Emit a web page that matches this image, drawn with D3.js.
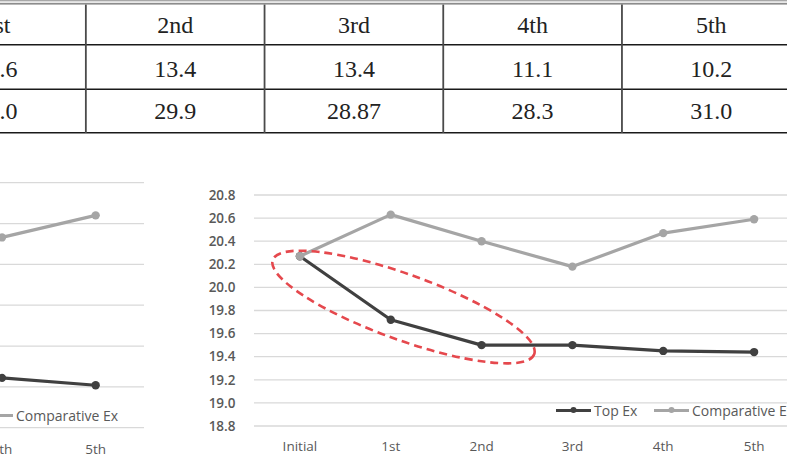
<!DOCTYPE html>
<html>
<head>
<meta charset="utf-8">
<script src="https://cdn.jsdelivr.net/npm/d3@7"></script>
<style>
  html, body { margin: 0; padding: 0; background: #fff; }
  svg { display: block; }
</style>
</head>
<body>
<svg id="chart" width="787" height="459"></svg>
<script>
// table (only the visible part of the original table)
var tableCols = ["1st", "2nd", "3rd", "4th", "5th"];
var tableTopEx = ["14.6", "13.4", "13.4", "11.1", "10.2"];
var tableCompEx = ["30.0", "29.9", "28.87", "28.3", "31.0"];

// left chart, same numbers as the table
var leftCats = ["Initial", "1st", "2nd", "3rd", "4th", "5th"];
var leftTopEx = [16.0, 14.6, 13.4, 13.4, 11.1, 10.2];
var leftCompEx = [29.5, 30.0, 29.9, 28.87, 28.3, 31.0];
var leftTicks = [5, 10, 15, 20, 25, 30, 35];

// right chart
var cats = ["Initial", "1st", "2nd", "3rd", "4th", "5th"];
var topEx = [20.27, 19.72, 19.50, 19.50, 19.45, 19.44];
var compEx = [20.27, 20.63, 20.40, 20.18, 20.47, 20.59];
var yTicks = [18.8, 19.0, 19.2, 19.4, 19.6, 19.8, 20.0, 20.2, 20.4, 20.6, 20.8];

var darkCol = "#404040", lightCol = "#a5a5a5", gridCol = "#d9d9d9", txtCol = "#595959";
var sans = "'Open Sans', sans-serif";

var svg = d3.select("#chart");

// ---------- table ----------
var colStep = 178.7, firstCenter = -3.5;
var tx = d => firstCenter + d * colStep;
var tg = svg.append("g");

// double top border
tg.append("rect").attr("x", 0).attr("y", 0).attr("width", 787).attr("height", 1.4).attr("fill", "#a8a8a8");
tg.append("rect").attr("x", 0).attr("y", 2.8).attr("width", 787).attr("height", 1.8).attr("fill", "#8c8c8c");

[44.8, 89.2, 132.8].forEach(function (y) {
  tg.append("line").attr("x1", 0).attr("x2", 787).attr("y1", y).attr("y2", y)
    .attr("stroke", "#1a1a1a").attr("stroke-width", 1.5);
});
tableCols.forEach(function (c, i) {
  var xb = tx(i) + colStep / 2;
  tg.append("line").attr("x1", xb).attr("x2", xb).attr("y1", 4.6).attr("y2", 133)
    .attr("stroke", "#4a4a4a").attr("stroke-width", 1.8);
});

var rows = [
  { vals: tableCols, base: 33 },
  { vals: tableTopEx, base: 76.5 },
  { vals: tableCompEx, base: 118.5 }
];
rows.forEach(function (r) {
  tg.selectAll(null).data(r.vals).enter().append("text")
    .attr("x", (d, i) => tx(i))
    .attr("y", r.base)
    .attr("text-anchor", "middle")
    .attr("font-family", "'Liberation Serif', 'Times New Roman', serif")
    .attr("font-size", "24px")
    .attr("fill", "#222")
    .text(d => d);
});

// ---------- helper to draw a line chart ----------
function drawChart(g, x, y, ticks, xMin, xMax, sets, labelBase) {
  g.selectAll(".grid").data(ticks).enter().append("line")
    .attr("x1", xMin).attr("x2", xMax)
    .attr("y1", d => y(d)).attr("y2", d => y(d))
    .attr("stroke", gridCol).attr("stroke-width", 1.3);

  g.selectAll(".xl").data(x.domain()).enter().append("text")
    .attr("x", d => x(d)).attr("y", labelBase)
    .attr("text-anchor", "middle")
    .attr("font-family", sans).attr("font-size", "13.5px")
    .attr("fill", txtCol)
    .text(d => d);

  sets.forEach(function (s) {
    var pts = x.domain().map((c, i) => [x(c), y(s.vals[i])]);
    g.append("path").attr("d", d3.line()(pts))
      .attr("fill", "none").attr("stroke", s.color).attr("stroke-width", 3.2)
      .attr("stroke-linejoin", "round");
    g.selectAll(null).data(pts).enter().append("circle")
      .attr("cx", d => d[0]).attr("cy", d => d[1]).attr("r", 4.2)
      .attr("fill", s.color);
  });
}

function legendItem(g, x0, yy, color, label) {
  g.append("line").attr("x1", x0).attr("x2", x0 + 35).attr("y1", yy).attr("y2", yy)
    .attr("stroke", color).attr("stroke-width", 3.2);
  g.append("circle").attr("cx", x0 + 17.5).attr("cy", yy - 0.5).attr("r", 3).attr("fill", color);
  g.append("text").attr("x", x0 + 38).attr("y", yy + 5)
    .attr("font-family", sans).attr("font-size", "14px").attr("fill", txtCol)
    .text(label);
}

// ---------- left chart ----------
var lg = svg.append("g");
var lx = d3.scalePoint().domain(leftCats).range([-419.7, 142.5]).padding(0.5);
var ly = d3.scaleLinear().domain([5, 35]).range([427.7, 182.7]);
drawChart(lg, lx, ly, leftTicks, -470, 144, [
  { vals: leftTopEx, color: darkCol },
  { vals: leftCompEx, color: lightCol }
], 454);
legendItem(lg, -140, 415.5, darkCol, "Top Ex");
legendItem(lg, -22, 415.5, lightCol, "Comparative Ex");

// ---------- right chart ----------
var rg = svg.append("g");
var x = d3.scalePoint().domain(cats).range([254.5, 799.5]).padding(0.5);
var y = d3.scaleLinear().domain([18.8, 20.8]).range([426, 195]);

rg.selectAll(".yl").data(yTicks).enter().append("text")
  .attr("x", 235.5).attr("y", d => y(d) + 4.7)
  .attr("text-anchor", "end")
  .attr("font-family", sans).attr("font-size", "13.5px").attr("font-weight", 600)
  .attr("fill", txtCol)
  .text(d => d.toFixed(1));

drawChart(rg, x, y, yTicks, 254, 800, [
  { vals: topEx, color: darkCol },
  { vals: compEx, color: lightCol }
], 451);
legendItem(rg, 556, 410.5, darkCol, "Top Ex");
legendItem(rg, 654, 410.5, lightCol, "Comparative Ex");

// red dashed ellipse around the early drop of Top Ex
var step = x.step();
var ecx = x("1st") + 0.14 * step, ecy = y(19.83);
rg.append("ellipse")
  .attr("cx", 0).attr("cy", 0).attr("rx", 139).attr("ry", 32.7)
  .attr("transform", "translate(" + ecx + "," + ecy + ") rotate(19.85)")
  .attr("fill", "none").attr("stroke", "#e5484d").attr("stroke-width", 2.6)
  .attr("stroke-dasharray", "8,5");
</script>
</body>
</html>
